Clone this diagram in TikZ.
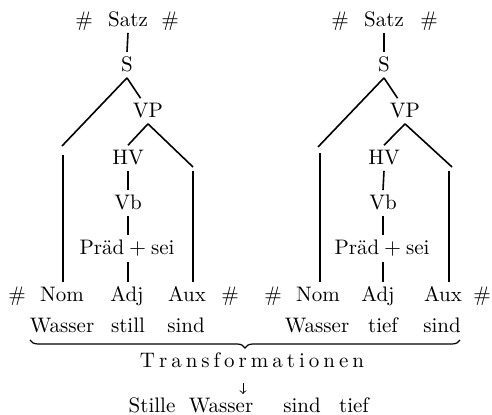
\documentclass[tikz,border=0pt]{standalone}
\usepackage{fontspec}
\usetikzlibrary{decorations.pathreplacing}

% letter-spaced word
\def\spreadletters#1{\spreadnext#1\relax}
\def\spreadnext#1{\ifx#1\relax\else#1\kern2pt\expandafter\spreadnext\fi}

\begin{document}
\begin{tikzpicture}[x=0.5pt,y=-0.5pt,
    font=\fontsize{10.5}{12.6}\selectfont,
    every node/.style={anchor=base,inner sep=2.5pt},
    branch/.style={thick},
    bracket/.style={semithick,decorate,decoration={brace,mirror,amplitude=4pt}}]
  \useasboundingbox (0,0) rectangle (492,415);

  % Left tree: top label and phrase nodes
  \node (hashL1) at (84,27) {\#};
  \node (satzL) at (128,27) {Satz};
  \node (hashL2) at (170,27) {\#};
  \node (sL) at (127,72) {S};
  \node (vpL) at (148,118) {VP};
  \node (hvL) at (128,165) {HV};
  \node (vbL) at (128,210) {Vb};
  \node (praedL) at (127,255) {Präd${}+{}$sei};

  % Left tree: terminal row and words
  \node (hashL3) at (17,302) {\#};
  \node (nomL) at (62,302) {Nom};
  \node (adjL) at (127,302) {Adj};
  \node (auxL) at (187,302) {Aux};
  \node (hashL4) at (230,302) {\#};
  \node (wasserL) at (62,333) {Wasser};
  \node (stillL) at (128,333) {still};
  \node (sindL) at (186,333) {sind};

  % Left tree: free ends of the branches
  \coordinate (armL1) at (62,146);
  \coordinate (vlL) at (63,155);
  \coordinate (armL2) at (193,167);
  \coordinate (vrL) at (193,171);

  % Left tree: branches
  \draw[branch] (satzL.south) -- (sL.north);
  \draw[branch] (sL.south) -- (armL1);
  \draw[branch] (sL.south) -- (vpL.120);
  \draw[branch] (vpL.south) -- (hvL.north);
  \draw[branch] (vpL.south) -- (armL2);
  \draw[branch] (hvL.south) -- (vbL.north);
  \draw[branch] (vbL.south) -- (vbL.south |- praedL.north);
  \draw[branch] (vbL.south |- praedL.south) -- (vbL.south |- adjL.north);
  \draw[branch] (vlL) -- (vlL |- nomL.north);
  \draw[branch] (vrL) -- (vrL |- auxL.north);

  % Right tree: top label and phrase nodes
  \node (hashR1) at (340,27) {\#};
  \node (satzR) at (384,27) {Satz};
  \node (hashR2) at (429,27) {\#};
  \node (sR) at (384,72) {S};
  \node (vpR) at (405,118) {VP};
  \node (hvR) at (384,165) {HV};
  \node (vbR) at (383,210) {Vb};
  \node (praedR) at (382,255) {Präd${}+{}$sei};

  % Right tree: terminal row and words
  \node (hashR3) at (273,302) {\#};
  \node (nomR) at (318,302) {Nom};
  \node (adjR) at (378,302) {Adj};
  \node (auxR) at (443,302) {Aux};
  \node (hashR4) at (482,302) {\#};
  \node (wasserR) at (317,333) {Wasser};
  \node (tiefR) at (383,333) {tief};
  \node (sindR) at (442,333) {sind};

  % Right tree: free ends of the branches
  \coordinate (armR1) at (318,147);
  \coordinate (vlR) at (320,153);
  \coordinate (armR2) at (452,167);
  \coordinate (vrR) at (449,171);

  % Right tree: branches
  \draw[branch] (satzR.south) -- (sR.north);
  \draw[branch] (sR.south) -- (armR1);
  \draw[branch] (sR.south) -- (vpR.120);
  \draw[branch] (vpR.south) -- (hvR.north);
  \draw[branch] (vpR.south) -- (armR2);
  \draw[branch] (hvR.south) -- (vbR.north);
  \draw[branch] (vbR.south) -- (vbR.south |- praedR.north);
  \draw[branch] (vbR.south |- praedR.south) -- (vbR.south |- adjR.north);
  \draw[branch] (vlR) -- (vlR |- nomR.north);
  \draw[branch] (vrR) -- (vrR |- auxR.north);

  % Brace under both word rows, then the transformation
  \coordinate (braceL) at (30,340);
  \coordinate (braceR) at (460,340);
  \draw[bracket] (braceL) -- (braceR);
  \node (trans) at (254,368) {\spreadletters{Transformationen}};
  \coordinate (arrTop) at (243,383);
  \coordinate (arrBot) at (243,394);
  \draw[thin,->] (arrTop) -- (arrBot);

  % Resulting sentence
  \node (stille) at (152,413) {Stille};
  \node (wasser) at (221,413) {Wasser};
  \node (sind) at (302,413) {sind};
  \node (tief) at (354,413) {tief};
\end{tikzpicture}
\end{document}
